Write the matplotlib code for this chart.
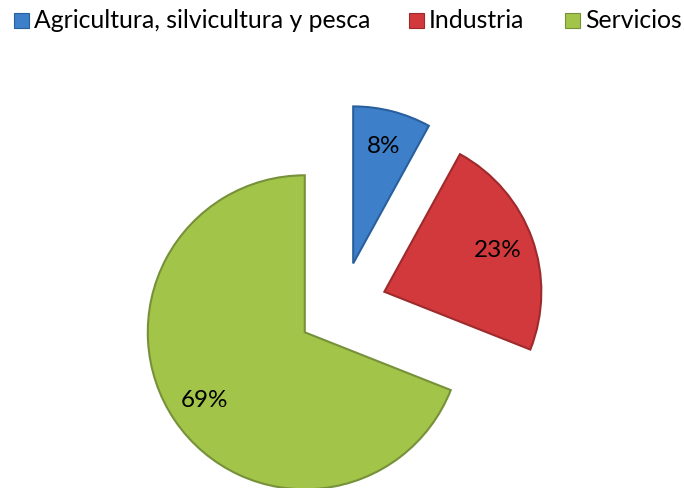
import matplotlib.pyplot as plt
from matplotlib.patches import Rectangle

# data
categories = ["Agricultura, silvicultura y pesca", "Industria", "Servicios"]
shares = [8, 23, 69]
colors = ["#3d80c9", "#d2393c", "#a2c448"]
edges = ["#2a5f9e", "#9e2a2c", "#76913a"]

FONT = "Lato"

W, H = 684, 488
fig = plt.figure(figsize=(W / 100, H / 100), dpi=100)
ax = fig.add_axes([0, 0, 1, 1])

wedges, texts, autotexts = ax.pie(
    shares, colors=colors, startangle=90, counterclock=False,
    explode=[45] * 3, radius=157, center=(342, H - 307),
    autopct="%1.0f%%", pctdistance=0.77,
    wedgeprops=dict(linewidth=1.5),
    textprops=dict(fontsize=17.5, family=FONT, color="black"))
for w, e in zip(wedges, edges):
    w.set_edgecolor(e)

ax.set_xlim(0, W)
ax.set_ylim(0, H)
ax.set_aspect("equal")
ax.axis("off")

# legend row
legend_x = [14, 409, 565]
for x, lab, c, e in zip(legend_x, categories, colors, edges):
    fig.patches.append(Rectangle((x / W, 1 - 28 / H), 15 / W, 15 / H,
                                 transform=fig.transFigure, facecolor=c,
                                 edgecolor=e, linewidth=0.8))
    fig.text((x + 20) / W, 1 - 20 / H, lab, fontsize=17.8, family=FONT,
             va="center", ha="left")

fig.savefig("out.png", dpi=100)
